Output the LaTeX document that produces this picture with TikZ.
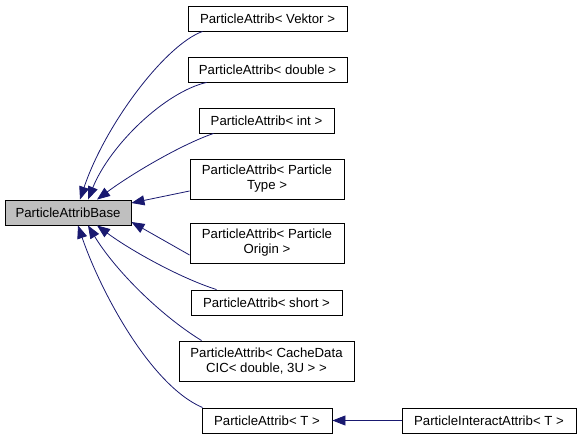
\documentclass[tikz,border=0pt]{standalone}
\usepackage{fontspec}
\setmainfont{Liberation Sans}
\usetikzlibrary{arrows.meta}
\definecolor{edgeblue}{HTML}{191970}
\definecolor{basegray}{HTML}{BFBFBF}
\tikzset{
  cls/.style={draw=black, line width=0.9pt, fill=white, align=center, inner sep=0pt, font=\fontsize{13.2}{15}\selectfont},
  edge/.style={draw=edgeblue, line width=0.8pt, -{Triangle[length=13pt,width=10pt]}},
}
\begin{document}
\begin{tikzpicture}[x=1pt,y=-1pt]
\useasboundingbox (0,0) rectangle (581,439);
\node[cls, fill=basegray, minimum width=126pt, minimum height=25pt] (base) at (68,212.5) {ParticleAttribBase};
\node[cls, minimum width=159pt, minimum height=25pt] (vek) at (267.5,18.5) {ParticleAttrib< Vektor >};
\node[cls, minimum width=159pt, minimum height=25pt] (dbl) at (267.5,69.5) {ParticleAttrib< double >};
\node[cls, minimum width=135pt, minimum height=25pt] (int) at (266.5,120.5) {ParticleAttrib< int >};
\node[cls, minimum width=154pt, minimum height=40pt] (typ) at (267,179) {ParticleAttrib< Particle\\Type >};
\node[cls, minimum width=154pt, minimum height=40pt] (ori) at (267,243) {ParticleAttrib< Particle\\Origin >};
\node[cls, minimum width=151pt, minimum height=25pt] (sho) at (266.5,302.5) {ParticleAttrib< short >};
\node[cls, minimum width=175pt, minimum height=40pt] (cac) at (266.5,361) {ParticleAttrib< CacheData\\CIC< double, 3U > >};
\node[cls, minimum width=130pt, minimum height=25pt] (tt) at (267,420.5) {ParticleAttrib< T >};
\node[cls, minimum width=174pt, minimum height=25pt] (ia) at (489,420.5) {ParticleInteractAttrib< T >};

\draw[edge] ([xshift=15pt]vek.south west) .. controls (165,45) and (105,125) .. ([xshift=12pt]base.north);
\draw[edge] ([xshift=19pt]dbl.south west) .. controls (165,92) and (110,145) .. ([xshift=20pt]base.north);
\draw[edge] ([xshift=15pt]int.south west) .. controls (180,145) and (130,175) .. ([xshift=29pt]base.north);
\draw[edge] ([yshift=-12pt]typ.west) -- ([yshift=9.5pt]base.east);
\draw[edge] ([yshift=-12pt]ori.west) -- ([yshift=-9.5pt]base.east);
\draw[edge] ([xshift=26pt]sho.north west) .. controls (180,278) and (130,250) .. ([xshift=29pt]base.south);
\draw[edge] ([xshift=23pt]cac.north west) .. controls (160,315) and (115,270) .. ([xshift=20pt]base.south);
\draw[edge] ([xshift=1pt]tt.north west) .. controls (150,385) and (100,290) .. ([xshift=10pt]base.south);
\draw[edge] (ia.west) -- (tt.east);
\end{tikzpicture}
\end{document}
